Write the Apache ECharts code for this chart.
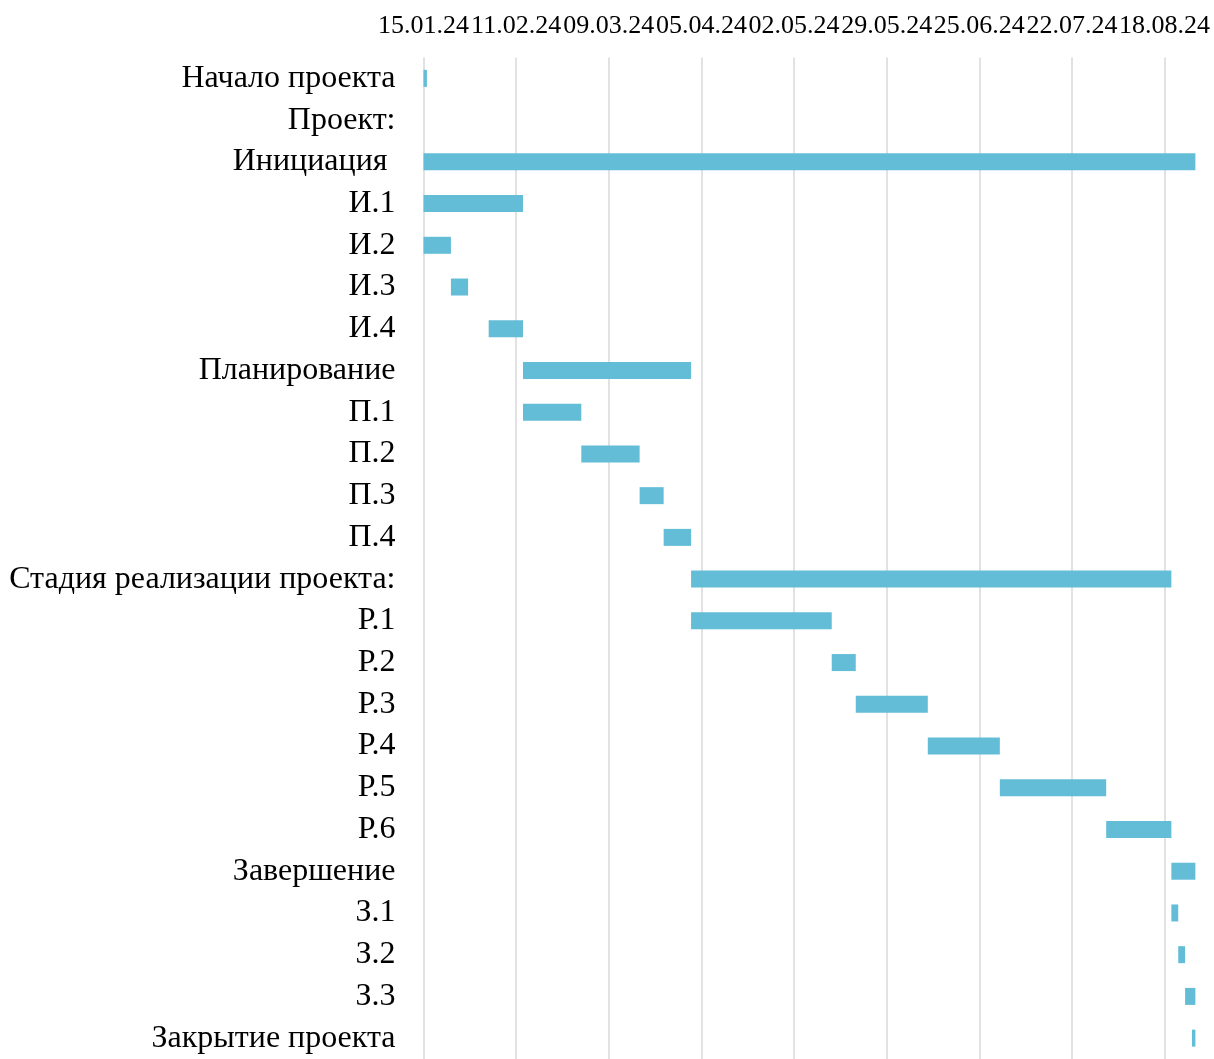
<!DOCTYPE html>
<html>
<head>
<meta charset="utf-8">
<title>График проекта</title>
<script src="https://cdn.jsdelivr.net/npm/echarts@6/dist/echarts.min.js"></script>
<style>
  html, body { margin: 0; padding: 0; background: #fff; }
  #chart { width: 1214px; height: 1059px; }
</style>
</head>
<body>
<div id="chart"></div>
<script>
// Work breakdown (top to bottom)
const tasks = [
  'Начало проекта', 'Проект:', 'Инициация ', 'И.1', 'И.2', 'И.3', 'И.4',
  'Планирование', 'П.1', 'П.2', 'П.3', 'П.4',
  'Стадия реализации проекта:', 'Р.1', 'Р.2', 'Р.3', 'Р.4', 'Р.5', 'Р.6',
  'Завершение', 'З.1', 'З.2', 'З.3', 'Закрытие проекта'
];

// Start dates (dd.mm.yy); null = heading without a bar
const startDates = [
  '15.01.24', null, '15.01.24', '15.01.24', '15.01.24', '23.01.24', '03.02.24',
  '13.02.24', '13.02.24', '01.03.24', '18.03.24', '25.03.24',
  '02.04.24', '02.04.24', '13.05.24', '20.05.24', '10.06.24', '01.07.24', '01.08.24',
  '20.08.24', '20.08.24', '22.08.24', '24.08.24', '26.08.24'
];

// Durations, days
const durations = [
  1, null, 225, 29, 8, 5, 10,
  49, 17, 17, 7, 8,
  140, 41, 7, 21, 21, 31, 19,
  7, 2, 2, 3, 1
];

// Timeline axis: origin date, tick step and span in days
const axisStart = '15.01.24';
const tickStepDays = 27;
const axisSpanDays = 225;

const DAY = 86400000;
function parseDate(s) {
  const [d, m, y] = s.split('.').map(Number);
  return Date.UTC(2000 + y, m - 1, d);
}
function fmtDate(t) {
  const dt = new Date(t);
  const dd = String(dt.getUTCDate()).padStart(2, '0');
  const mm = String(dt.getUTCMonth() + 1).padStart(2, '0');
  const yy = String(dt.getUTCFullYear() % 100).padStart(2, '0');
  return dd + '.' + mm + '.' + yy;
}
const origin = parseDate(axisStart);
const offsets = startDates.map(s => s === null ? null : Math.round((parseDate(s) - origin) / DAY));

const font = '"Liberation Serif", "Times New Roman", serif';
const pxPerDay = 3.4306;

const chart = echarts.init(document.getElementById('chart'), null, { renderer: 'canvas' });
chart.setOption({
  animation: false,
  backgroundColor: '#fff',
  grid: {
    left: 423.5,
    top: 57.5,
    width: axisSpanDays * pxPerDay,
    height: 1005.6,
    containLabel: false
  },
  xAxis: {
    type: 'value',
    position: 'top',
    min: 0,
    max: axisSpanDays,
    interval: tickStepDays,
    axisLine: { show: false },
    axisTick: { show: false },
    axisLabel: {
      color: '#000',
      fontFamily: font,
      fontSize: 26,
      margin: 18,
      showMaxLabel: false,
      formatter: v => (v % tickStepDays === 0 ? fmtDate(origin + v * DAY) : '')
    },
    splitLine: {
      show: true,
      showMaxLine: false,
      lineStyle: { color: '#d9d9d9', width: 1.5 }
    }
  },
  yAxis: {
    type: 'category',
    data: tasks,
    inverse: true,
    axisLine: { show: false },
    axisTick: { show: false },
    splitLine: { show: false },
    axisLabel: {
      color: '#000',
      fontFamily: font,
      fontSize: 32,
      margin: 28
    }
  },
  series: [
    {
      name: 'start',
      type: 'bar',
      stack: 'gantt',
      silent: true,
      barWidth: 17,
      itemStyle: { color: 'transparent' },
      data: offsets
    },
    {
      name: 'duration',
      type: 'bar',
      stack: 'gantt',
      barWidth: 17,
      itemStyle: { color: '#63bdd7' },
      data: durations
    }
  ]
});
</script>
</body>
</html>
